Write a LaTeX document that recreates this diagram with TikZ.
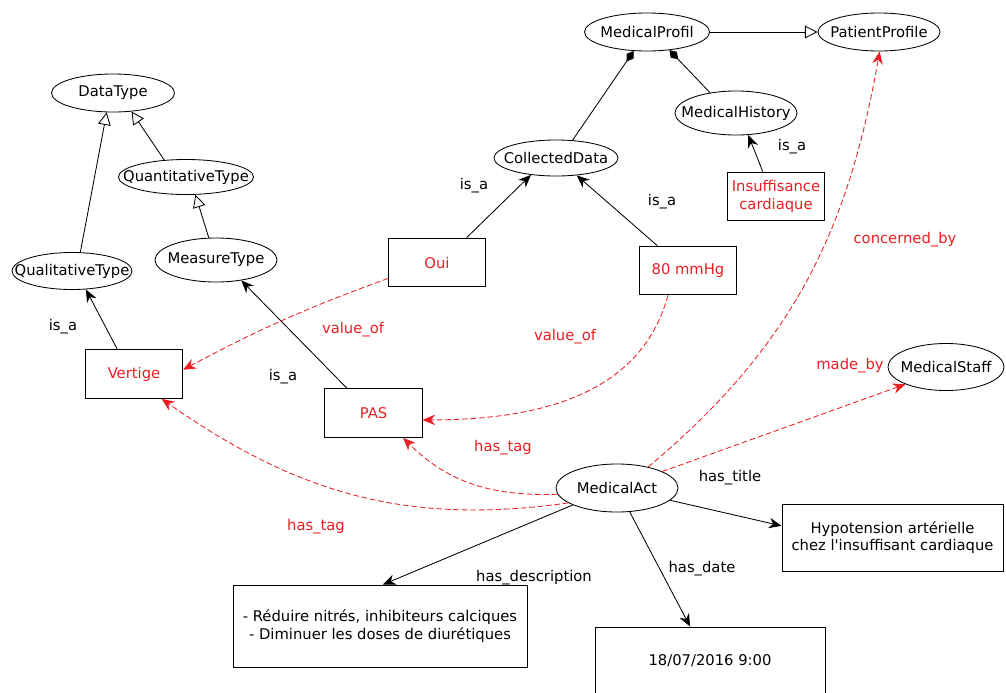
\documentclass[tikz,border=0pt]{standalone}
\usepackage{fontspec}
\setmainfont{DejaVu Sans}
\usetikzlibrary{arrows.meta, shapes.geometric}
\definecolor{relred}{RGB}{235,30,35}

\tikzset{
  concept/.style={ellipse, draw, inner ysep=0pt, inner xsep=-25pt, minimum height=0.95cm},
  inst/.style={rectangle, draw, inner sep=0pt, text=relred, align=center, minimum width=2.43cm, minimum height=1.22cm},
  litbox/.style={rectangle, draw, inner sep=0pt, align=center},
  isa/.style={-{Stealth[length=9pt,width=7.5pt]}},
  subcls/.style={-{Triangle[open,length=9pt,width=9pt]}},
  partof/.style={{Diamond[length=9pt,width=6pt]}-},
  rel/.style={relred, dash pattern=on 4pt off 2pt, -{Stealth[length=9pt,width=7.5pt]}},
  lbl/.style={inner sep=1pt},
  rlbl/.style={inner sep=1pt, text=relred}
}

\begin{document}
\begin{tikzpicture}[x=0.025cm, y=0.025cm, line width=0.6pt, font=\fontsize{10.5}{12.5}\selectfont]
  \useasboundingbox (0,0) rectangle (1006,-692);

  \node[concept, minimum width=3.125cm] (medprofil) at (647,-32) {MedicalProfil};
  \node[concept, minimum width=3.05cm] (patprofile) at (879,-32) {PatientProfile};
  \node[concept, minimum width=3.075cm] (datatype) at (113,-93) {DataType};
  \node[concept, minimum width=3.375cm, minimum height=0.875cm] (quanttype) at (186,-177) {QuantitativeType};
  \node[concept, minimum width=3.0cm, minimum height=0.925cm] (qualtype) at (72,-271) {QualitativeType};
  \node[concept, minimum width=3.05cm, minimum height=1.1cm] (measuretype) at (216,-260) {MeasureType};
  \node[concept, minimum width=3.1cm, minimum height=0.9cm] (collected) at (556,-158) {CollectedData};
  \node[concept, minimum width=3.05cm, minimum height=1.1cm] (medhistory) at (736,-113) {MedicalHistory};
  \node[concept, minimum width=2.9cm, minimum height=1.175cm] (medstaff) at (946,-367) {MedicalStaff};
  \node[concept, minimum width=3.05cm, minimum height=1.2cm] (medact) at (617,-488) {MedicalAct};

  \node[inst] (insuff) at (776,-196.5) {Insuffisance\\cardiaque};
  \node[inst] (oui) at (437,-262.5) {Oui};
  \node[inst] (mmhg) at (688,-270.5) {80 mmHg};
  \node[inst] (vertige) at (134,-374) {Vertige};
  \node[inst] (pas) at (373.5,-413) {PAS};

  \node[litbox, minimum width=5.525cm, minimum height=1.675cm] (hypo) at (892.5,-537.5) {Hypotension artérielle\\chez l\textquotesingle insuffisant cardiaque};
  \node[litbox, minimum width=7.35cm, minimum height=2.05cm] (descr) at (380,-626) {- Réduire nitrés, inhibiteurs calciques\\- Diminuer les doses de diurétiques};
  \node[litbox, minimum width=5.75cm, minimum height=1.7cm] (date) at (710,-661) {18/07/2016 9:00};

  \draw[subcls] (qualtype.66) -- (datatype.252);
  \draw[subcls] (quanttype.142) -- (datatype.315);
  \draw[subcls] (measuretype.108) -- (quanttype.298);
  \draw[subcls] (medprofil.east) -- (patprofile.west);
  \draw[partof] (medprofil.235) -- (collected.47);
  \draw[partof] (medprofil.321) -- (medhistory.142);

  \draw[isa] (vertige.124) -- (qualtype.307);
  \draw[isa] (pas.137) -- (measuretype.321);
  \draw[isa] (oui.40) -- (collected.214);
  \draw[isa] (mmhg.141) -- (collected.320);
  \draw[isa] (insuff.118) -- (medhistory.299);

  \draw[rel] (oui.198) to[bend right=4] (vertige.5);
  \draw[rel] (mmhg.231) to[out=-105, in=0] (pas.352);
  \draw[rel] (medact.186) to[out=182, in=-45] (pas.-40);
  \draw[rel] (medact.197) to[out=188, in=-35] (vertige.-42);
  \draw[rel] (medact.34) to[out=40, in=-100] (patprofile.-88);
  \draw[rel] (medact.20) -- (medstaff.203);

  \draw[isa] (medact.-13) -- (hypo.174);
  \draw[isa] (medact.-62) -- (date.120);
  \draw[isa] (medact.201) -- (descr.86);

  \node[lbl] (isaqual) at (63,-327) {is\_a};
  \node[lbl] (isameas) at (283,-377) {is\_a};
  \node[lbl] (isaoui) at (474,-186) {is\_a};
  \node[lbl] (isammhg) at (662,-202) {is\_a};
  \node[lbl] (isahist) at (792,-147) {is\_a};
  \node[rlbl] (valoui) at (353,-330) {value\_of};
  \node[rlbl] (valmmhg) at (565,-337) {value\_of};
  \node[rlbl] (tagpas) at (503,-448) {has\_tag};
  \node[rlbl] (tagvert) at (316,-527) {has\_tag};
  \node[rlbl] (concby) at (905,-240) {concerned\_by};
  \node[rlbl] (madeby) at (850,-366) {made\_by};
  \node[lbl] (title) at (730,-478) {has\_title};
  \node[lbl] (datelbl) at (702,-569) {has\_date};
  \node[lbl] (desclbl) at (534,-578) {has\_description};
\end{tikzpicture}
\end{document}
